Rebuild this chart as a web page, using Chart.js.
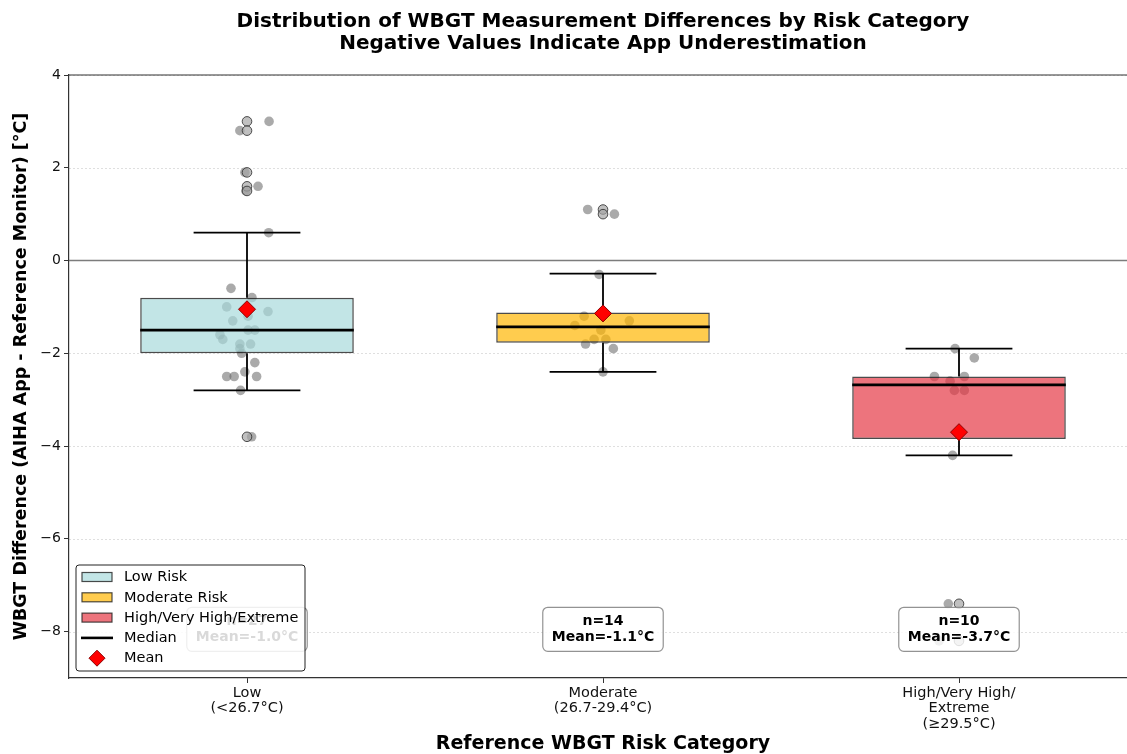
<!DOCTYPE html>
<html><head><meta charset="utf-8">
<script src="https://cdn.jsdelivr.net/npm/chart.js@4.4.1/dist/chart.umd.min.js"></script>
<style>html,body{margin:0;padding:0;background:#fff;width:1127px;height:754px;overflow:hidden;}canvas{display:block;}</style>
</head><body>
<canvas id="c" width="1137" height="754"></canvas>
<script>
// ---------- data ----------
const categories = [['Low', '(<26.7°C)'], ['Moderate', '(26.7-29.4°C)'], ['High/Very High/', 'Extreme', '(≥29.5°C)']];
const legendNames = ['Low Risk', 'Moderate Risk', 'High/Very High/Extreme'];
const q1 = [-2.0, -1.77, -3.85];
const q3 = [-0.8, -1.12, -2.5];
const medians = [-1.5, -1.43, -2.68];
const whiskerLow = [-2.8, -2.4, -4.2];
const whiskerHigh = [0.6, -0.28, -1.9];
const means = [-1.05, -1.14, -3.7];
const counts = [27, 14, 10];
const meanLabels = ['-1.0', '-1.1', '-3.7'];

const lowValues = [3.0, 2.8, 1.9, 1.6, 1.5, 0.6, -0.6, -0.8, -1.0, -1.1, -1.2, -1.3, -1.5, -1.5, -1.6, -1.7, -1.8, -1.8, -1.9, -2.0, -2.2, -2.4, -2.5, -2.5, -2.5, -2.8, -3.8];
const lowJitter = [0.062, -0.02, -0.006, 0.031, -0.003, 0.061, -0.045, 0.014, -0.057, 0.059, 0.003, -0.04, 0.003, 0.022, -0.076, -0.068, -0.02, 0.01, -0.02, -0.015, 0.022, -0.006, -0.057, -0.036, 0.027, -0.018, 0.013];
const modValues = [1.1, 1.0, -0.3, -1.2, -1.3, -1.4, -1.5, -1.7, -1.7, -1.8, -1.9, -2.4];
const modJitter = [-0.043, 0.032, -0.011, -0.053, 0.074, -0.079, -0.006, -0.025, 0.008, -0.049, 0.029, 0.0];
const highValues = [-1.9, -2.1, -2.5, -2.5, -2.6, -2.8, -2.8, -4.2, -7.4, -8.2];
const highJitter = [-0.011, 0.043, -0.069, 0.015, -0.025, -0.013, 0.015, -0.018, -0.03, -0.056];

const lowFliers = [3.0, 2.8, 1.9, 1.6, 1.5, -3.8];
const modFliers = [1.1, 1.0];
const highFliers = [-7.4, -8.2];

const yTicks = [-8, -6, -4, -2, 0, 2, 4];
const yTickLabels = ['−8', '−6', '−4', '−2', '0', '2', '4'];

// ---------- styles ----------
const FONT = 'DejaVu Sans';
const boxColors = ['rgba(168,218,220,0.7)', 'rgba(255,183,3,0.7)', 'rgba(230,57,70,0.7)'];
const BOX_W = 0.6, CAP_W = 0.3, LABEL_Y = -7.95;

// ---------- build datasets from arrays ----------
const groups = [[lowValues, lowJitter], [modValues, modJitter], [highValues, highJitter]];
const pointData = [];
groups.forEach(([vals, jit], i) => vals.forEach((v, k) => pointData.push({x: i + jit[k], y: v})));
const flierData = [];
[lowFliers, modFliers, highFliers].forEach((f, i) => f.forEach(v => flierData.push({x: i, y: v})));

const GAP = (x) => ({x: x, y: null});
const whiskerData = [];
const medianData = [];
categories.forEach((c, i) => {
  whiskerData.push({x: i, y: q3[i]}, {x: i, y: whiskerHigh[i]}, GAP(i));
  whiskerData.push({x: i, y: q1[i]}, {x: i, y: whiskerLow[i]}, GAP(i));
  whiskerData.push({x: i - CAP_W / 2, y: whiskerHigh[i]}, {x: i + CAP_W / 2, y: whiskerHigh[i]}, GAP(i));
  whiskerData.push({x: i - CAP_W / 2, y: whiskerLow[i]}, {x: i + CAP_W / 2, y: whiskerLow[i]}, GAP(i));
  medianData.push({x: i - BOX_W / 2, y: medians[i]}, {x: i + BOX_W / 2, y: medians[i]}, GAP(i));
});
const boxData = categories.map((c, i) => ({x: i, y: [q1[i], q3[i]]}));
const meanData = categories.map((c, i) => ({x: i, y: means[i]}));

// ---------- plugins ----------
const backdrop = {
  id: 'backdrop',
  beforeDatasetsDraw(chart) {
    const {ctx, chartArea: a, scales: {y}} = chart;
    ctx.save();
    ctx.strokeStyle = 'rgba(0,0,0,0.16)';
    ctx.lineWidth = 0.8;
    ctx.setLineDash([2, 2]);
    yTicks.forEach(v => {
      if (v === 0) return;
      const py = Math.round(y.getPixelForValue(v)) + 0.5;
      ctx.beginPath(); ctx.moveTo(a.left, py); ctx.lineTo(a.right, py); ctx.stroke();
    });
    ctx.setLineDash([]);
    ctx.strokeStyle = 'rgba(110,110,110,0.9)';
    ctx.lineWidth = 1.4;
    const p0 = y.getPixelForValue(0);
    ctx.beginPath(); ctx.moveTo(a.left, p0); ctx.lineTo(a.right, p0); ctx.stroke();
    ctx.strokeStyle = '#333';
    ctx.lineWidth = 1.2;
    ctx.beginPath(); ctx.moveTo(a.left, a.top); ctx.lineTo(a.right, a.top); ctx.stroke();
    ctx.restore();
  }
};

function roundRect(ctx, x, y, w, h, r) {
  ctx.beginPath();
  ctx.moveTo(x + r, y);
  ctx.arcTo(x + w, y, x + w, y + h, r);
  ctx.arcTo(x + w, y + h, x, y + h, r);
  ctx.arcTo(x, y + h, x, y, r);
  ctx.arcTo(x, y, x + w, y, r);
  ctx.closePath();
}

const countBoxes = {
  id: 'countBoxes',
  afterDatasetsDraw(chart) {
    const {ctx, scales: {x, y}} = chart;
    ctx.save();
    ctx.font = 'bold 14px ' + FONT;
    ctx.textAlign = 'center';
    ctx.textBaseline = 'middle';
    const lh = 16;
    categories.forEach((c, i) => {
      const lines = ['n=' + counts[i], 'Mean=' + meanLabels[i] + '°C'];
      const w = Math.max(...lines.map(t => ctx.measureText(t).width)) + 18;
      const h = lh * 2 + 12;
      const cx = x.getPixelForValue(i), cy = y.getPixelForValue(LABEL_Y);
      roundRect(ctx, cx - w / 2, cy - h / 2, w, h, 5);
      ctx.fillStyle = 'rgba(255,255,255,0.82)';
      ctx.fill();
      ctx.strokeStyle = 'rgba(120,120,120,0.8)';
      ctx.lineWidth = 1.2;
      ctx.stroke();
      ctx.fillStyle = '#000';
      ctx.fillText(lines[0], cx, cy - lh / 2);
      ctx.fillText(lines[1], cx, cy + lh / 2);
    });
    ctx.restore();
  }
};

const boxLegend = {
  id: 'boxLegend',
  afterDraw(chart) {
    const {ctx, chartArea: a} = chart;
    const w = 229, h = 106;
    const lx = a.left + 7, ly = a.bottom - 7 - h;
    ctx.save();
    roundRect(ctx, lx, ly, w, h, 3);
    ctx.fillStyle = 'rgba(255,255,255,0.85)';
    ctx.fill();
    ctx.strokeStyle = '#222';
    ctx.lineWidth = 1;
    ctx.stroke();
    ctx.font = '14.5px ' + FONT;
    ctx.textBaseline = 'middle';
    ctx.textAlign = 'left';
    const names = [...legendNames, 'Median', 'Mean'];
    names.forEach((name, k) => {
      const ry = ly + 12 + k * 20.3;
      if (k < 3) {
        ctx.fillStyle = boxColors[k];
        ctx.fillRect(lx + 6, ry - 4.5, 30, 9);
        ctx.strokeStyle = 'rgba(30,30,30,0.8)';
        ctx.lineWidth = 1.2;
        ctx.strokeRect(lx + 6, ry - 4.5, 30, 9);
      } else if (k === 3) {
        ctx.strokeStyle = '#000';
        ctx.lineWidth = 2.6;
        ctx.beginPath(); ctx.moveTo(lx + 5, ry); ctx.lineTo(lx + 37, ry); ctx.stroke();
      } else {
        const cx = lx + 21, r = 8;
        ctx.beginPath();
        ctx.moveTo(cx - r, ry); ctx.lineTo(cx, ry - r); ctx.lineTo(cx + r, ry); ctx.lineTo(cx, ry + r);
        ctx.closePath();
        ctx.fillStyle = '#ff0000'; ctx.fill();
        ctx.strokeStyle = '#8b0000'; ctx.lineWidth = 1; ctx.stroke();
      }
      ctx.fillStyle = '#000';
      ctx.fillText(name, lx + 48, ry + 0.5);
    });
    ctx.restore();
  }
};

Chart.defaults.font.family = FONT;
Chart.defaults.color = '#111';

new Chart(document.getElementById('c'), {
  type: 'scatter',
  data: {
    datasets: [
      {type: 'scatter', label: 'points', data: pointData, order: 6,
        backgroundColor: 'rgba(100,100,100,0.55)', borderWidth: 0, pointRadius: 4.8},
      {type: 'scatter', label: 'fliers', data: flierData, order: 5,
        backgroundColor: 'rgba(165,165,165,0.7)', borderColor: 'rgba(40,40,40,0.8)', borderWidth: 1, pointRadius: 4.8},
      {type: 'bar', label: 'boxes', data: boxData, order: 4,
        backgroundColor: boxColors, borderColor: 'rgba(30,30,30,0.8)', borderWidth: 1.5,
        borderSkipped: false, barPercentage: BOX_W, categoryPercentage: 1.0, grouped: false},
      {type: 'line', label: 'whiskers', data: whiskerData, order: 3, showLine: true, spanGaps: false,
        borderColor: '#000', borderWidth: 1.8, pointRadius: 0, fill: false, tension: 0},
      {type: 'line', label: 'medians', data: medianData, order: 2, showLine: true, spanGaps: false,
        borderColor: '#000', borderWidth: 2.8, pointRadius: 0, fill: false, tension: 0},
      {type: 'scatter', label: 'means', data: meanData, order: 1, pointStyle: 'rectRot',
        pointRadius: 8.5, backgroundColor: '#ff0000', borderColor: '#8b0000', borderWidth: 1}
    ]
  },
  options: {
    responsive: false,
    animation: false,
    events: [],
    devicePixelRatio: 1,
    layout: {autoPadding: false, padding: {left: 0, right: 0, top: 0, bottom: 0}},
    plugins: {
      legend: {display: false},
      tooltip: {enabled: false},
      title: {
        display: true, fullSize: false,
        text: ['Distribution of WBGT Measurement Differences by Risk Category', 'Negative Values Indicate App Underestimation'],
        font: {family: FONT, size: 20, weight: 'bold', lineHeight: 1.1},
        color: '#000',
        padding: {top: 10.5, bottom: 20.5}
      }
    },
    scales: {
      x: {
        type: 'linear', min: -0.5, max: 2.5, offset: false,
        afterBuildTicks: (s) => { s.ticks = categories.map((c, i) => ({value: i})); },
        afterFit: (s) => { s.height = 76; },
        ticks: {callback: (v) => categories[v], font: {size: 14.5, lineHeight: 1.07}, color: '#111', padding: 2, maxRotation: 0, autoSkip: false},
        grid: {drawOnChartArea: false, drawTicks: true, tickLength: 5, tickColor: '#333', tickWidth: 1, offset: false},
        border: {display: true, color: '#333', width: 1.2},
        title: {display: true, text: 'Reference WBGT Risk Category', font: {size: 19, weight: 'bold', lineHeight: 1.0}, color: '#000', padding: {top: 0, bottom: 0}}
      },
      y: {
        type: 'linear', min: -9, max: 4, beginAtZero: false,
        afterBuildTicks: (s) => { s.ticks = yTicks.map(v => ({value: v})); },
        afterFit: (s) => { s.width = 69; },
        ticks: {callback: (v) => yTickLabels[yTicks.indexOf(v)], font: {size: 14}, color: '#111', padding: 3},
        grid: {drawOnChartArea: false, drawTicks: true, tickLength: 5, tickColor: '#333', tickWidth: 1},
        border: {display: true, color: '#333', width: 1.2},
        title: {display: true, text: 'WBGT Difference (AIHA App - Reference Monitor) [°C]', font: {size: 17.5, weight: 'bold', lineHeight: 1.2}, color: '#000', padding: {top: 10.5, bottom: 0}}
      }
    }
  },
  plugins: [backdrop, countBoxes, boxLegend]
});
</script>
</body></html>
